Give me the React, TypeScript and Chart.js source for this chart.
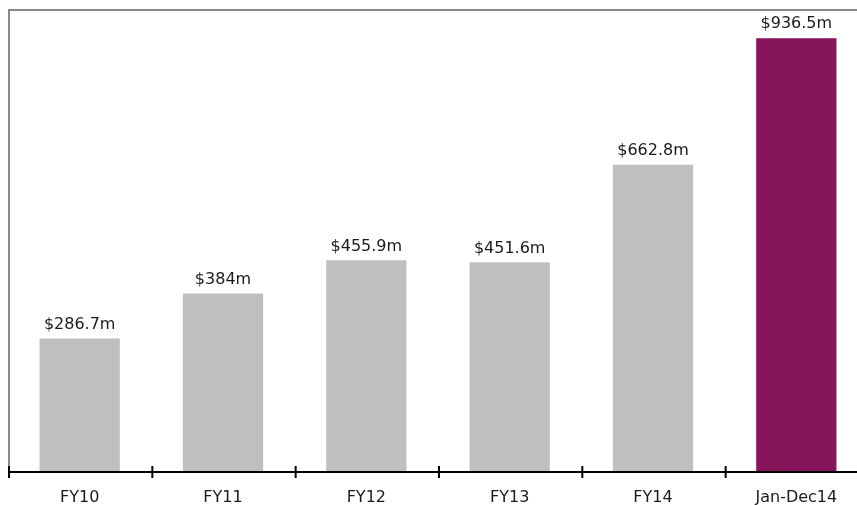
import React, { useEffect, useRef } from "react";
import { Chart, registerables } from "chart.js";

Chart.register(...registerables);

const categories = ["FY10", "FY11", "FY12", "FY13", "FY14", "Jan-Dec14"];
const values = [286.7, 384, 455.9, 451.6, 662.8, 936.5];
const valueLabels = ["$286.7m", "$384m", "$455.9m", "$451.6m", "$662.8m", "$936.5m"];
const barColors = ["#BFBFBF", "#BFBFBF", "#BFBFBF", "#BFBFBF", "#BFBFBF", "#85145A"];
const yMax = 1000;

const FONT = "'DejaVu Sans', sans-serif";

const framePlugin = {
  id: "frame",
  afterDatasetsDraw(chart: any) {
    const { ctx, chartArea, scales } = chart;
    const { left, top, right, bottom } = chartArea;
    ctx.save();
    // gray frame (left + top)
    ctx.strokeStyle = "#888888";
    ctx.lineWidth = 2;
    ctx.beginPath();
    ctx.moveTo(left + 1, bottom);
    ctx.lineTo(left + 1, top + 1);
    ctx.lineTo(chart.width, top + 1);
    ctx.stroke();
    // x axis line
    ctx.strokeStyle = "#000000";
    ctx.beginPath();
    ctx.moveTo(left, bottom + 1);
    ctx.lineTo(right, bottom + 1);
    ctx.stroke();
    // crossing ticks at category boundaries
    const x = scales.x;
    const n = categories.length;
    const step = x.getPixelForValue(1) - x.getPixelForValue(0);
    for (let i = 0; i <= n; i++) {
      const px = i < n ? x.getPixelForValue(i) - step / 2 : x.getPixelForValue(n - 1) + step / 2;
      ctx.beginPath();
      ctx.moveTo(px + 1, bottom - 5);
      ctx.lineTo(px + 1, bottom + 7);
      ctx.stroke();
    }
    // value labels
    const meta = chart.getDatasetMeta(0);
    ctx.fillStyle = "#1A1A1A";
    ctx.font = `16px ${FONT}`;
    ctx.textAlign = "center";
    ctx.textBaseline = "middle";
    meta.data.forEach((bar: any, i: number) => {
      ctx.fillText(valueLabels[i], bar.x, bar.y - 14);
    });
    ctx.restore();
  },
};

export default function App() {
  const ref = useRef<HTMLCanvasElement>(null);
  useEffect(() => {
    if (!ref.current) return;
    const chart = new Chart(ref.current, {
      type: "bar",
      data: {
        labels: categories,
        datasets: [
          {
            data: values,
            backgroundColor: barColors,
            borderWidth: 0,
            barPercentage: 0.56,
            categoryPercentage: 1,
          },
        ],
      },
      options: {
        animation: false,
        responsive: false,
        layout: { padding: { left: 8, top: 9, right: 12, bottom: 0 } },
        plugins: { legend: { display: false }, tooltip: { enabled: false } },
        scales: {
          x: {
            offset: true,
            grid: { display: false },
            border: { display: false },
            ticks: { color: "#1A1A1A", font: { family: FONT, size: 16 }, padding: 9, maxRotation: 0 },
            afterFit(scale: any) {
              scale.height = 34;
            },
          },
          y: {
            display: false,
            min: 0,
            max: yMax,
          },
        },
      },
      plugins: [framePlugin],
    });
    return () => chart.destroy();
  }, []);
  return (
    <div style={{ position: "fixed", left: 0, top: 0, width: 857, height: 505, overflow: "hidden", background: "#fff" }}>
      <canvas ref={ref} width={880} height={505} style={{ width: 880, height: 505, display: "block" }} />
    </div>
  );
}
